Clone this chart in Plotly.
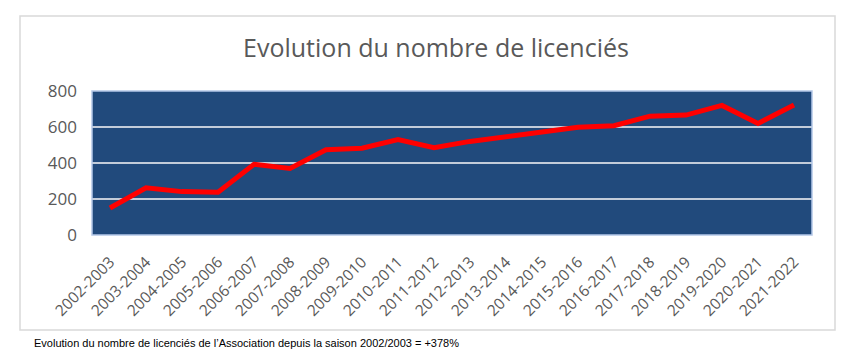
import plotly.graph_objects as go

seasons = ["2002-2003", "2003-2004", "2004-2005", "2005-2006", "2006-2007",
           "2007-2008", "2008-2009", "2009-2010", "2010-2011", "2011-2012",
           "2012-2013", "2013-2014", "2014-2015", "2015-2016", "2016-2017",
           "2017-2018", "2018-2019", "2019-2020", "2020-2021", "2021-2022"]
licencies = [150, 262, 241, 237, 393, 370, 474, 482, 530, 485,
             520, 546, 574, 598, 607, 660, 666, 720, 620, 722]
y_ticks = [0, 200, 400, 600, 800]

title_text = "Evolution du nombre de licenciés"
caption_text = "Evolution du nombre de licenciés de l’Association depuis la saison 2002/2003 = +378%"

fig = go.Figure()
fig.add_trace(go.Scatter(
    x=seasons, y=licencies, mode="lines",
    line=dict(color="#ff0000", width=5),
    hoverinfo="x+y", showlegend=False,
))

L, R, T, B = 92, 42, 91, 119
W, H = 854, 354
pw, ph = W - L - R, H - T - B

def px_x(x):
    return (x - L) / pw

def px_y(y):
    return (H - B - y) / ph

fig.update_layout(
    width=W, height=H,
    margin=dict(l=L, r=R, t=T, b=B),
    paper_bgcolor="white",
    plot_bgcolor="#214a7c",
    font=dict(family="Open Sans, Liberation Sans, sans-serif", color="#595959"),
    title=dict(text=title_text, x=436 / W, xanchor="center",
               y=1 - 48 / H, yanchor="middle",
               font=dict(size=25, color="#595959")),
    xaxis=dict(
        type="category", tickangle=-45, showgrid=False, zeroline=False,
        tickfont=dict(size=15.5, color="#595959"), ticks="",
        showline=False, range=[-0.5, len(seasons) - 0.5],
        ticklabelstandoff=14,
    ),
    yaxis=dict(
        range=[0, 800], tickvals=y_ticks, showgrid=True,
        gridcolor="#c3ccd9", gridwidth=1.5, zeroline=False,
        tickfont=dict(size=17, color="#595959"), ticks="", ticklen=0,
        showline=False, ticklabelstandoff=14,
    ),
    shapes=[
        dict(type="rect", xref="paper", yref="paper",
             x0=px_x(20), x1=px_x(835), y0=px_y(330), y1=px_y(16),
             line=dict(color="#d9d9d9", width=1.5), fillcolor="rgba(0,0,0,0)",
             layer="below"),
        dict(type="rect", xref="paper", yref="paper",
             x0=0, x1=1, y0=0, y1=1,
             line=dict(color="#b4c7e7", width=1.5), fillcolor="rgba(0,0,0,0)"),
    ],
    annotations=[
        dict(text=caption_text, xref="paper", yref="paper",
             x=px_x(32), y=px_y(343), xanchor="left", yanchor="middle",
             showarrow=False,
             font=dict(family="Liberation Sans, sans-serif",
                       size=11, color="#000000")),
    ],
)

fig.write_html("out.html")
